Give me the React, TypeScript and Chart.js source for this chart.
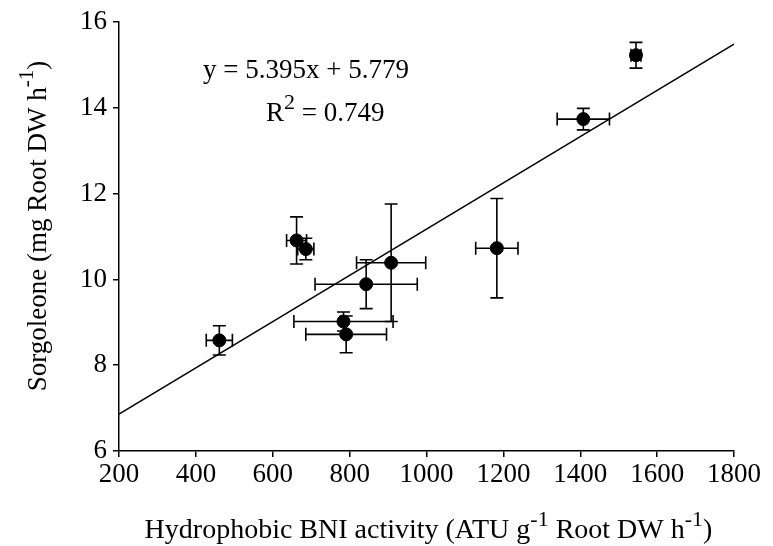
import { useEffect, useRef } from 'react';
import { Chart, registerables } from 'chart.js';

Chart.register(...registerables);

// Data
const bniX = [461, 662, 686, 908, 843, 784, 791, 1183, 1545, 1408];
const sorgY = [8.58, 10.91, 10.71, 10.39, 9.89, 9.02, 8.72, 10.73, 15.23, 13.74];
const bniErr = [34, 26, 21, 90, 133, 129, 105, 55, 13, 68];
const sorgErr = [0.34, 0.55, 0.25, 1.37, 0.57, 0.22, 0.43, 1.16, 0.3, 0.25];

const fitX = [200, 1800];
const fitY = [6.858, 15.49];

const xTicks = [200, 400, 600, 800, 1000, 1200, 1400, 1600, 1800];
const yTicks = [6, 8, 10, 12, 14, 16];

const eqText = 'y = 5.395x + 5.779';
const r2Text = ['R', '2', ' = 0.749'];

const FONT = '"Liberation Serif", "Times New Roman", serif';

type Seg = { t: string; sup?: boolean };

function drawRich(ctx: CanvasRenderingContext2D, segs: Seg[], x: number, y: number, size: number, supSize: number, raise: number, align: 'left' | 'center') {
  let total = 0;
  const widths = segs.map((s) => {
    ctx.font = `${s.sup ? supSize : size}px ${FONT}`;
    const w = ctx.measureText(s.t).width;
    total += w;
    return w;
  });
  let cx = align === 'center' ? x - total / 2 : x;
  ctx.textAlign = 'left';
  ctx.textBaseline = 'alphabetic';
  segs.forEach((s, i) => {
    ctx.font = `${s.sup ? supSize : size}px ${FONT}`;
    ctx.fillText(s.t, cx, s.sup ? y - raise : y);
    cx += widths[i];
  });
}

const errorBarPlugin = {
  id: 'errorBars',
  afterDatasetsDraw(chart: any) {
    const { ctx, scales } = chart;
    const xs = scales.x;
    const ys = scales.y;
    const cap = 6.5;
    ctx.save();
    ctx.strokeStyle = '#000';
    ctx.lineWidth = 1.6;
    for (let i = 0; i < bniX.length; i++) {
      const px = xs.getPixelForValue(bniX[i]);
      const py = ys.getPixelForValue(sorgY[i]);
      const x0 = xs.getPixelForValue(bniX[i] - bniErr[i]);
      const x1 = xs.getPixelForValue(bniX[i] + bniErr[i]);
      const y0 = ys.getPixelForValue(sorgY[i] - sorgErr[i]);
      const y1 = ys.getPixelForValue(sorgY[i] + sorgErr[i]);
      ctx.beginPath();
      ctx.moveTo(x0, py); ctx.lineTo(x1, py);
      ctx.moveTo(x0, py - cap); ctx.lineTo(x0, py + cap);
      ctx.moveTo(x1, py - cap); ctx.lineTo(x1, py + cap);
      ctx.moveTo(px, y0); ctx.lineTo(px, y1);
      ctx.moveTo(px - cap, y0); ctx.lineTo(px + cap, y0);
      ctx.moveTo(px - cap, y1); ctx.lineTo(px + cap, y1);
      ctx.stroke();
    }
    ctx.restore();
  },
};

const textPlugin = {
  id: 'richText',
  afterDraw(chart: any) {
    const { ctx, chartArea } = chart;
    ctx.save();
    ctx.fillStyle = '#000';
    // equation
    ctx.font = `27px ${FONT}`;
    ctx.textAlign = 'left';
    ctx.textBaseline = 'alphabetic';
    ctx.fillText(eqText, 203, 78);
    drawRich(ctx, [{ t: r2Text[0] }, { t: r2Text[1], sup: true }, { t: r2Text[2] }], 266, 121, 27, 22, 12, 'left');
    // x title
    drawRich(
      ctx,
      [
        { t: 'Hydrophobic BNI activity (ATU g' },
        { t: '-1', sup: true },
        { t: ' Root DW h' },
        { t: '-1', sup: true },
        { t: ')' },
      ],
      (chartArea.left + chartArea.right) / 2 + 2,
      538,
      28,
      22,
      12,
      'center'
    );
    // y title
    ctx.translate(46, 226);
    ctx.rotate(-Math.PI / 2);
    drawRich(
      ctx,
      [
        { t: 'Sorgoleone (mg Root DW h' },
        { t: '-1', sup: true },
        { t: ')' },
      ],
      0,
      0,
      27,
      21,
      13,
      'center'
    );
    ctx.restore();
  },
};

export default function App() {
  const ref = useRef<HTMLCanvasElement | null>(null);
  useEffect(() => {
    if (!ref.current) return;
    const chart = new Chart(ref.current, {
      type: 'scatter',
      data: {
        datasets: [
          {
            type: 'line',
            data: fitX.map((x, i) => ({ x, y: fitY[i] })),
            borderColor: '#000',
            borderWidth: 1.5,
            pointRadius: 0,
            fill: false,
          } as any,
          {
            data: bniX.map((x, i) => ({ x, y: sorgY[i] })),
            backgroundColor: '#000',
            borderColor: '#000',
            pointRadius: 6.5,
            pointHoverRadius: 6.5,
          },
        ],
      },
      options: {
        animation: false,
        responsive: false,
        devicePixelRatio: 1,
        layout: { padding: { left: 0, right: 39, top: 21, bottom: 0 } },
        plugins: { legend: { display: false }, tooltip: { enabled: false } },
        scales: {
          x: {
            type: 'linear',
            min: 200,
            max: 1800,
            afterBuildTicks: (s: any) => { s.ticks = xTicks.map((v) => ({ value: v })); },
            afterFit: (s: any) => { s.height = 95; },
            ticks: {
              color: '#000',
              font: { family: FONT, size: 27 },
              padding: 2,
              maxRotation: 0,
              autoSkip: false,
              callback: (v: any) => String(v),
            },
            grid: { drawOnChartArea: false, drawTicks: true, tickLength: 6, color: '#000', lineWidth: 1.5 },
            border: { display: true, color: '#000', width: 1.5 },
          },
          y: {
            type: 'linear',
            min: 6,
            max: 16,
            afterBuildTicks: (s: any) => { s.ticks = yTicks.map((v) => ({ value: v })); },
            afterFit: (s: any) => { s.width = 119; },
            ticks: {
              color: '#000',
              font: { family: FONT, size: 27 },
              padding: 6,
              autoSkip: false,
              callback: (v: any) => String(v),
            },
            grid: { drawOnChartArea: false, drawTicks: true, tickLength: 6, color: '#000', lineWidth: 1.5 },
            border: { display: true, color: '#000', width: 1.5 },
          },
        },
      },
      plugins: [errorBarPlugin, textPlugin],
    });
    return () => chart.destroy();
  }, []);
  return (
    <div style={{ position: 'fixed', left: 0, top: 0, width: 773, height: 546, background: '#fff' }}>
      <canvas ref={ref} width={773} height={546} style={{ width: 773, height: 546 }} />
    </div>
  );
}
